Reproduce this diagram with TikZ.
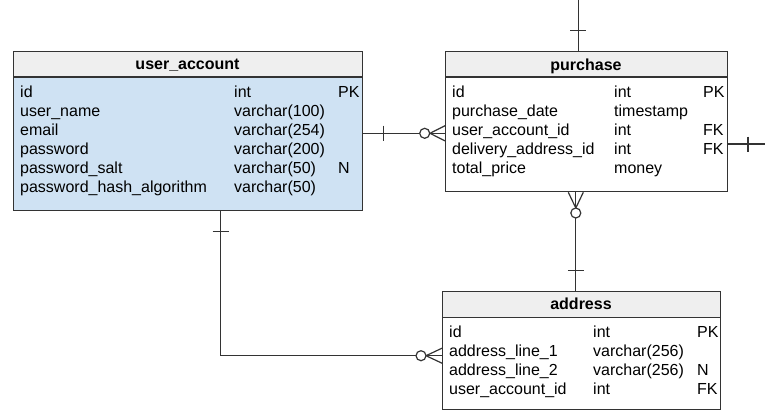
\documentclass[tikz,border=0pt]{standalone}
\usepackage{fontspec}
\setmainfont{Liberation Sans}
\usetikzlibrary{calc}
\definecolor{hdr}{HTML}{EFEFEF}
\definecolor{ublue}{HTML}{CFE2F3}
\definecolor{ln}{HTML}{333333}
\begin{document}
\begin{tikzpicture}[x=1pt,y=-1pt,
  box/.style={draw=ln, line width=1.3pt, inner sep=0, anchor=north west},
  txt/.style={inner sep=0, anchor=base west, font=\fontsize{16}{19}\selectfont},
  ttl/.style={inner sep=0, anchor=base, font=\fontsize{16}{19}\selectfont\bfseries},
  conn/.style={draw=ln, line width=1.2pt},
  sep/.style={draw=ln, line width=1.3pt}]
\useasboundingbox (0,0) rectangle (765,418);

% ---------- user_account ----------
\fill[ublue] (13,77) rectangle (362,210);
\fill[hdr] (13,51) rectangle (362,77);
\node[box, minimum width=349pt, minimum height=159pt] (ua) at (13,51) {};
\draw[sep] (13,77) -- (362,77);
\node[ttl] (uat) at (187.5,69.5) {user\_account};
\foreach \n/\t/\k [count=\i from 0] in {id/int/PK, user\_name/varchar(100)/, email/varchar(254)/, password/varchar(200)/, password\_salt/varchar(50)/N, password\_hash\_algorithm/varchar(50)/}{
  \node[txt] (uan\i) at (20,97+19*\i) {\n};
  \node[txt] (uay\i) at (234,97+19*\i) {\t};
  \node[txt] (uak\i) at (338,97+19*\i) {\k};
}

% ---------- purchase ----------
\fill[white] (445,77) rectangle (727,191);
\fill[hdr] (445,51) rectangle (727,77);
\node[box, minimum width=282pt, minimum height=140pt] (pu) at (445,51) {};
\draw[sep] (445,77) -- (727,77);
\node[ttl] (put) at (586,70) {purchase};
\foreach \n/\t/\k [count=\i from 0] in {id/int/PK, purchase\_date/timestamp/, user\_account\_id/int/FK, delivery\_address\_id/int/FK, total\_price/money/}{
  \node[txt] (pun\i) at (452,97+19*\i) {\n};
  \node[txt] (puy\i) at (614,97+19*\i) {\t};
  \node[txt] (puk\i) at (703,97+19*\i) {\k};
}

% ---------- address ----------
\fill[white] (442,317.5) rectangle (720,409);
\fill[hdr] (442,291) rectangle (720,317.5);
\node[box, minimum width=278pt, minimum height=118pt] (ad) at (442,291) {};
\draw[sep] (442,317.5) -- (720,317.5);
\node[ttl] (adt) at (581,309.5) {address};
\foreach \n/\t/\k [count=\i from 0] in {id/int/PK, address\_line\_1/varchar(256)/, address\_line\_2/varchar(256)/N, user\_account\_id/int/FK}{
  \node[txt] (adn\i) at (449,337.5+19*\i) {\n};
  \node[txt] (ady\i) at (593,337.5+19*\i) {\t};
  \node[txt] (adk\i) at (697,337.5+19*\i) {\k};
}

% ---------- connectors ----------
% user_account -- purchase
\coordinate (c1a) at (ua.north east |- 0,133.3);
\coordinate (c1b) at (pu.north west |- 0,133.3);
\draw[conn] (c1a) -- (c1b);
\draw[conn] ($(c1a)+(20,-7.7)$) -- ($(c1a)+(20,7.7)$);
\draw[conn] ($(c1b)+(-15,0)$) -- ($(c1b)+(0,-7.6)$)
            ($(c1b)+(-15,0)$) -- ($(c1b)+(0,7.6)$);
\draw[conn, fill=white] ($(c1b)+(-20.3,0)$) circle (5pt);

% purchase top
\coordinate (c2a) at (578.3,0);
\coordinate (c2b) at (pu.north west -| 578.3,0);
\draw[conn] (c2a) -- (c2b);
\draw[conn] ($(c2b)+(-8,-20.3)$) -- ($(c2b)+(8,-20.3)$);

% purchase right
\coordinate (c3a) at (pu.north east |- 0,144);
\coordinate (c3b) at (765,144);
\draw[conn] (c3a) -- (c3b);
\draw[conn] ($(c3a)+(19.7,-7.5)$) -- ($(c3a)+(19.7,7.5)$);

% purchase -- address
\coordinate (c4a) at (pu.south west -| 575.8,0);
\coordinate (c4b) at (ad.north west -| 575.8,0);
\draw[conn] (c4a) -- (c4b);
\draw[conn] ($(c4a)+(-7.5,0)$) -- ($(c4a)+(0,15.7)$) -- ($(c4a)+(7.5,0)$);
\draw[conn, fill=white] ($(c4a)+(0,20.7)$) circle (5pt);
\draw[conn] ($(c4b)+(-8,-20.3)$) -- ($(c4b)+(8,-20.3)$);

% user_account -- address
\coordinate (c5a) at (ua.south west -| 220.7,0);
\coordinate (c5b) at (ad.north west |- 0,355.7);
\draw[conn] (c5a) |- (c5b);
\draw[conn] ($(c5a)+(-8,20)$) -- ($(c5a)+(8,20)$);
\draw[conn] ($(c5b)+(-16,0)$) -- ($(c5b)+(0,-7.5)$)
            ($(c5b)+(-16,0)$) -- ($(c5b)+(0,7.5)$);
\draw[conn, fill=white] ($(c5b)+(-21,0)$) circle (5pt);
\end{tikzpicture}
\end{document}
